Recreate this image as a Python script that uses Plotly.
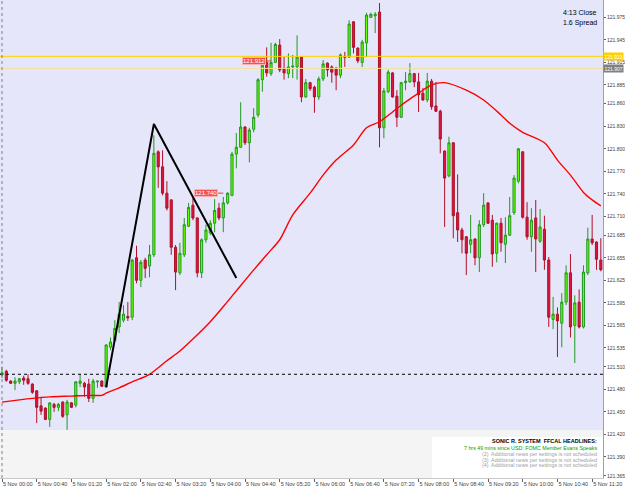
import pandas as pd
import plotly.graph_objects as go

times = pd.date_range("2019-11-05 00:00", periods=139, freq="5min")

open_ = [121.499,121.504,121.491,121.488,121.490,121.495,121.494,121.487,121.478,121.458,
121.455,121.440,121.460,121.456,121.463,121.446,121.462,121.459,121.488,121.488,
121.487,121.468,121.490,121.491,121.483,121.536,121.545,121.563,121.572,121.577,
121.576,121.655,121.625,121.652,121.644,121.659,121.796,121.776,121.741,121.732,
121.669,121.635,121.659,121.697,121.725,121.708,121.635,121.679,121.688,121.701,
121.721,121.708,121.728,121.738,121.793,121.802,121.829,121.808,121.826,121.845,
121.892,121.915,121.900,121.915,121.938,121.907,121.900,121.909,121.909,121.922,
121.869,121.888,121.882,121.869,121.893,121.914,121.909,121.907,121.898,121.923,
121.922,121.969,121.934,121.915,121.941,121.975,121.977,121.982,121.828,121.876,
121.901,121.870,121.842,121.888,121.889,121.900,121.889,121.874,121.865,121.890,
121.857,121.850,121.797,121.764,121.808,121.715,121.692,121.683,121.673,121.680,
121.655,121.699,121.728,121.705,121.661,121.701,121.673,121.685,121.715,121.757,
121.796,121.709,121.683,121.708,121.677,121.693,121.652,121.573,121.580,121.568,
121.596,121.635,121.565,121.596,121.563,121.635,121.680,121.676,121.652]

high = [121.510,121.506,121.492,121.496,121.495,121.498,121.500,121.488,121.479,121.470,
121.456,121.462,121.462,121.462,121.464,121.466,121.463,121.490,121.500,121.490,
121.494,121.494,121.491,121.492,121.540,121.549,121.572,121.596,121.592,121.596,
121.653,121.671,121.652,121.655,121.672,121.818,121.798,121.798,121.757,121.733,
121.672,121.675,121.708,121.728,121.734,121.709,121.681,121.699,121.705,121.733,
121.728,121.736,121.742,121.796,121.821,121.862,121.830,121.828,121.854,121.894,
121.914,121.935,121.941,121.941,121.946,121.922,121.927,121.925,121.951,121.923,
121.893,121.889,121.884,121.896,121.918,121.915,121.911,121.909,121.927,121.929,
121.971,121.970,121.935,121.945,121.981,121.981,121.982,121.994,121.881,121.905,
121.902,121.878,121.889,121.902,121.914,121.901,121.901,121.881,121.901,121.893,
121.889,121.852,121.798,121.816,121.809,121.766,121.695,121.684,121.712,121.681,
121.705,121.741,121.729,121.712,121.702,121.708,121.709,121.736,121.765,121.801,
121.797,121.729,121.721,121.732,121.720,121.711,121.656,121.603,121.589,121.608,
121.645,121.660,121.605,121.613,121.645,121.695,121.712,121.677,121.681]

low = [121.495,121.490,121.487,121.479,121.487,121.486,121.486,121.474,121.435,121.446,
121.439,121.430,121.450,121.451,121.442,121.426,121.455,121.456,121.483,121.470,
121.463,121.462,121.482,121.483,121.482,121.532,121.543,121.555,121.569,121.571,
121.572,121.621,121.616,121.628,121.629,121.656,121.748,121.738,121.718,121.659,
121.612,121.632,121.656,121.696,121.705,121.629,121.628,121.675,121.685,121.689,
121.705,121.689,121.726,121.737,121.774,121.801,121.805,121.782,121.822,121.842,
121.876,121.896,121.897,121.914,121.902,121.892,121.894,121.894,121.892,121.862,
121.868,121.877,121.848,121.865,121.890,121.896,121.888,121.878,121.894,121.909,
121.921,121.927,121.914,121.909,121.922,121.974,121.954,121.802,121.814,121.874,
121.868,121.829,121.841,121.878,121.888,121.882,121.849,121.864,121.862,121.852,
121.849,121.794,121.696,121.762,121.681,121.676,121.661,121.632,121.661,121.645,
121.636,121.696,121.700,121.643,121.649,121.663,121.648,121.684,121.712,121.754,
121.707,121.679,121.663,121.636,121.675,121.639,121.563,121.560,121.523,121.536,
121.592,121.549,121.515,121.561,121.561,121.632,121.672,121.639,121.637]

close = [121.502,121.492,121.488,121.491,121.494,121.492,121.488,121.476,121.456,121.451,
121.440,121.462,121.456,121.460,121.444,121.463,121.456,121.490,121.491,121.483,
121.468,121.491,121.491,121.484,121.539,121.543,121.561,121.580,121.580,121.575,
121.652,121.625,121.649,121.641,121.659,121.794,121.776,121.741,121.721,121.669,
121.636,121.661,121.699,121.722,121.708,121.635,121.679,121.692,121.701,121.718,
121.708,121.728,121.741,121.793,121.802,121.829,121.808,121.825,121.842,121.892,
121.911,121.901,121.915,121.939,121.905,121.901,121.909,121.910,121.922,121.869,
121.888,121.880,121.869,121.893,121.913,121.905,121.902,121.898,121.925,121.922,
121.966,121.935,121.917,121.942,121.978,121.979,121.979,121.828,121.877,121.902,
121.869,121.842,121.888,121.890,121.900,121.889,121.872,121.865,121.890,121.856,
121.850,121.813,121.761,121.808,121.711,121.692,121.679,121.661,121.679,121.655,
121.699,121.725,121.701,121.660,121.701,121.675,121.685,121.711,121.761,121.800,
121.709,121.683,121.705,121.680,121.696,121.652,121.576,121.580,121.571,121.596,
121.635,121.563,121.595,121.563,121.636,121.680,121.675,121.653,121.639]

# moving average read at sample candles
ma_idx = [0,4,7,11,16,20,23,24,27,30,34,38,41,44,48,52,57,61,64,67,71,74,77,81,84,87,90,92,
          96,99,102,107,111,115,117,120,125,128,131,134,136,138]
ma_val = [121.463,121.466,121.468,121.470,121.471,121.472,121.472,121.475,121.482,121.490,
          121.500,121.518,121.531,121.547,121.570,121.597,121.632,121.659,121.679,121.712,
          121.741,121.765,121.785,121.805,121.828,121.836,121.849,121.858,121.874,121.885,
          121.888,121.878,121.865,121.845,121.834,121.822,121.808,121.785,121.765,121.742,
          121.732,121.724]

# trend lines drawn on chart (candle index, price)
trend_idx = [24, 35, 54]
trend_px = [121.483, 121.833, 121.628]

y_ticks = [121.975,121.945,121.915,121.885,121.860,121.830,121.800,121.770,121.740,121.710,
           121.685,121.655,121.625,121.595,121.565,121.535,121.510,121.480,121.450,121.420,
           121.390,121.365]
x_tick_idx = list(range(0, 139, 8))
x_tick_text = ["5 Nov " + times[i].strftime("%H:%M") for i in x_tick_idx]

level_gold = 121.923
level_gray = 121.907
level_dot = 121.500
price_labels = [("121.912", 58, 62, 121.917), ("121.740", 47, 51, 121.741)]

news_title = "SONIC R. SYSTEM  FFCAL HEADLINES:"
news_lines = ["7 hrs 49 mins since USD: FOMC Member Evans Speaks",
              "(2)  Additional news per settings is not scheduled",
              "(3)  Additional news per settings is not scheduled",
              "(4)  Additional news per settings is not scheduled"]

FONT = "Liberation Sans"
step = pd.Timedelta(minutes=5)
x0 = times[0] - 0.46 * step
x1 = times[0] + 138.5 * step

fig = go.Figure()
fig.add_trace(go.Candlestick(
    x=times, open=open_, high=high, low=low, close=close,
    increasing=dict(line=dict(color="#1e9a1e", width=1), fillcolor="#66ff00"),
    decreasing=dict(line=dict(color="#b01028", width=1), fillcolor="#dc143c"),
    whiskerwidth=0, showlegend=False, hoverinfo="skip"))
fig.add_trace(go.Scatter(x=[times[i] for i in ma_idx], y=ma_val, mode="lines",
                         line=dict(color="#ff0000", width=1.4, shape="spline", smoothing=0.8),
                         showlegend=False, hoverinfo="skip"))
fig.add_trace(go.Scatter(x=[times[i] for i in trend_idx], y=trend_px, mode="lines",
                         line=dict(color="#000000", width=2), showlegend=False, hoverinfo="skip"))

shapes = [
    dict(type="rect", xref="paper", yref="y", x0=0, x1=1, y0=121.426, y1=122.1,
         fillcolor="#e6e6fa", line=dict(width=0), layer="below"),
    dict(type="rect", xref="paper", yref="paper", x0=432/603, x1=1, y0=0, y1=(478-437)/478,
         fillcolor="#ffffff", line=dict(width=0), layer="below"),
    dict(type="line", xref="paper", yref="y", x0=0, x1=1, y0=level_gold, y1=level_gold,
         line=dict(color="#ffd200", width=1)),
    dict(type="line", xref="paper", yref="y", x0=0, x1=1, y0=level_gray, y1=level_gray,
         line=dict(color="#f2e29a", width=1)),
    dict(type="line", xref="paper", yref="y", x0=0, x1=1, y0=level_dot, y1=level_dot,
         line=dict(color="#000000", width=1, dash="dot")),
    dict(type="line", xref="x", yref="paper", x0=times[0], x1=times[0], y0=0, y1=1,
         line=dict(color="#808080", width=1, dash="dot")),
]
annotations = []
for txt, i0, i1, p in price_labels:
    shapes.append(dict(type="line", xref="x", yref="y", x0=times[i0], x1=times[i1], y0=p, y1=p,
                       line=dict(color="#e04040", width=1)))
    annotations.append(dict(x=times[i0], y=p, xref="x", yref="y", text=txt, showarrow=False,
                            font=dict(family=FONT, size=6, color="#ffffff"),
                            bgcolor="#ef5555", bordercolor="#ffb0b0", borderwidth=1, borderpad=0))

annotations.append(dict(xref="paper", x=1, xanchor="left", y=level_gold, yref="y", text="121.923",
                        showarrow=False, font=dict(family=FONT, size=5, color="#ffffff"),
                        bgcolor="#ffd000", borderpad=0.5))
annotations.append(dict(xref="paper", x=1, xanchor="left", y=level_gray, yref="y", text="121.907",
                        showarrow=False, font=dict(family=FONT, size=5, color="#ffffff"),
                        bgcolor="#808080", borderpad=0.5))
annotations.append(dict(xref="paper", yref="paper", x=599/603, y=1 - 7/478, xanchor="right",
                        text="4:13 Close", showarrow=False,
                        font=dict(family=FONT, size=7, color="#000000")))
annotations.append(dict(xref="paper", yref="paper", x=599/603, y=1 - 17/478, xanchor="right",
                        text="1.6 Spread", showarrow=False,
                        font=dict(family=FONT, size=7, color="#000000")))
news_y = [453, 459, 464.5, 470]
annotations.append(dict(xref="paper", yref="paper", x=599/603, y=(478-446)/478, xanchor="right",
                        text="<b>" + news_title + "</b>", showarrow=False,
                        font=dict(family=FONT, size=5.5, color="#000000")))
for k, line in enumerate(news_lines):
    annotations.append(dict(xref="paper", yref="paper", x=599/603, y=(478-news_y[k])/478,
                            xanchor="right", text=line, showarrow=False,
                            font=dict(family=FONT, size=5.3,
                                      color="#00a000" if k == 0 else "#a0a0a0")))

fig.update_layout(
    width=625, height=490, margin=dict(l=0, r=22, t=0, b=12),
    paper_bgcolor="#ffffff", plot_bgcolor="#f4f4f4",
    shapes=shapes, annotations=annotations, showlegend=False,
    xaxis=dict(range=[x0, x1], rangeslider=dict(visible=False), showgrid=False, zeroline=False,
               tickvals=[times[i] for i in x_tick_idx], ticktext=x_tick_text, tickangle=0,
               automargin=False,
               ticks="outside", ticklen=3, tickcolor="#606060", ticklabelposition="outside right",
               tickfont=dict(family=FONT, size=5.5, color="#404040"),
               showline=True, linecolor="#c8c8c8", linewidth=1),
    yaxis=dict(range=[121.362, 121.998], side="right", showgrid=False, zeroline=False,
               tickvals=y_ticks, ticktext=["%.3f" % v for v in y_ticks], automargin=False,
               ticks="outside", ticklen=2, tickcolor="#606060",
               tickfont=dict(family=FONT, size=5, color="#404040"),
               showline=True, linecolor="#a0a0a0", linewidth=1),
)
fig.write_html("out.html")
